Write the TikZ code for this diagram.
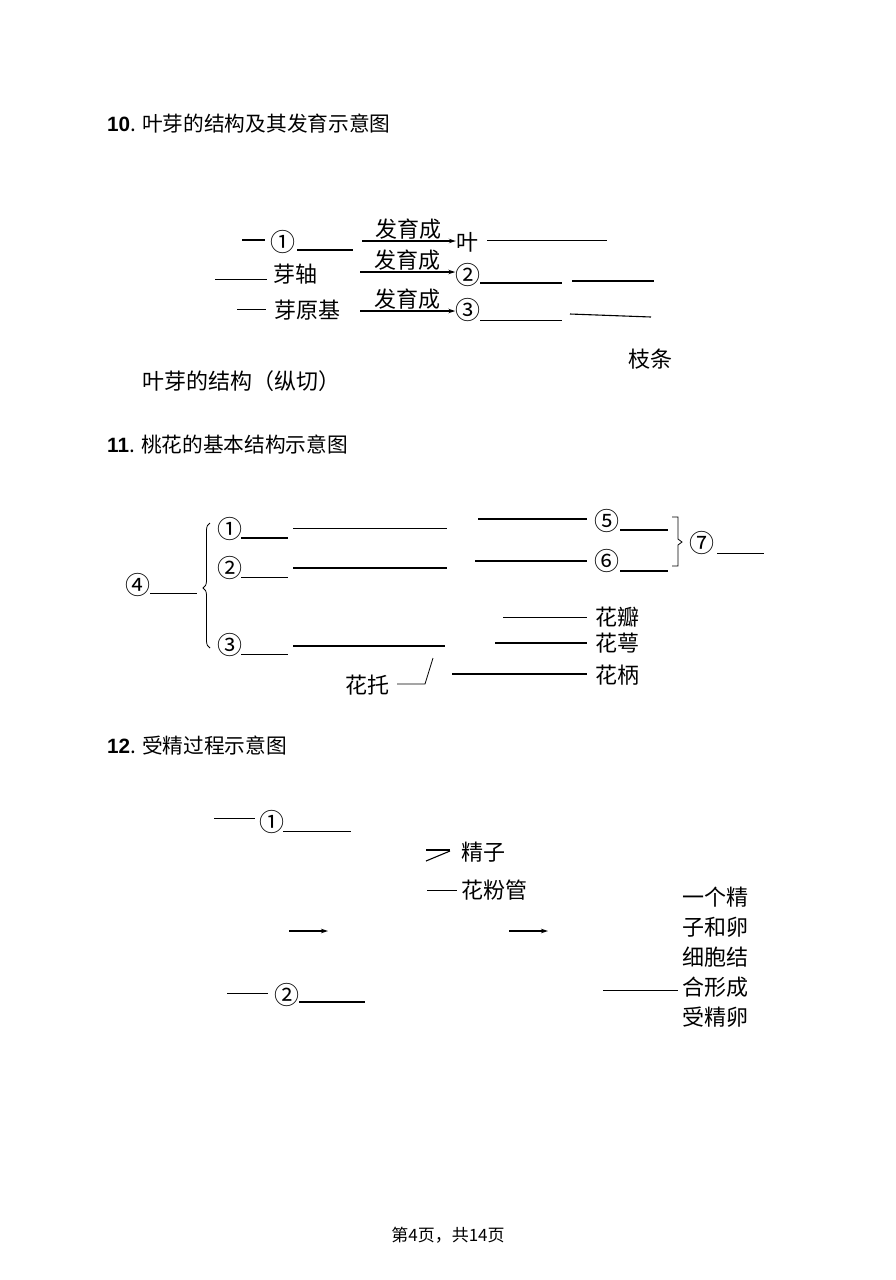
\documentclass[tikz,border=0pt]{standalone}
\usepackage{fontspec}
\setmainfont{Noto Sans CJK SC}
\newfontfamily\cjk{Noto Sans CJK SC}
\newfontfamily\lsans{Liberation Sans}
\usetikzlibrary{arrows.meta,decorations.pathreplacing}
\begin{document}
\begin{tikzpicture}[x=1pt,y=-1pt,
  txt/.style={inner sep=0pt, font=\cjk\fontsize{22}{22}\selectfont},
  circ/.style={inner sep=0pt, font=\cjk\fontsize{25}{25}\selectfont},
  hd/.style={inner sep=0pt, anchor=west, font=\cjk\fontsize{20.7}{21}\selectfont},
  ln/.style={line width=1.1pt},
  thin/.style={line width=0.8pt},
  arr/.style={-{Stealth[length=7pt,width=4.5pt]}, line width=1.1pt}]
\useasboundingbox (0,0) rectangle (895,1280);
\fill[white] (0,0) rectangle (895,1280);

% ---------- 10 ----------
\node[hd] (h10) at (107,124) {{\lsans\bfseries 10}. 叶芽的结构及其发育示意图};

\node[circ] (c1) at (283,242) {①};
\node[txt] (ye) at (467,242) {叶};
\node[txt] (yz) at (295,274) {芽轴};
\node[circ] (c2) at (468,275) {②};
\node[txt] (yyj) at (307,310) {芽原基};
\node[circ] (c3) at (468,310) {③};
\node[txt] (zt) at (650,359) {枝条};
\node[txt] (yjg) at (241,381) {叶芽的结构（纵切）};

\coordinate (a1s) at (362,241);
\coordinate (a2s) at (360,272);
\coordinate (a3s) at (360,311);
\draw[arr] (a1s) -- (ye.west |- a1s) node[midway, above=1pt, txt] (f1) {发育成};
\draw[arr] (a2s) -- (c2.west |- a2s) node[midway, above=1pt, txt] (f2) {发育成};
\draw[arr] (a3s) -- (c3.west |- a3s) node[midway, above=1pt, txt] (f3) {发育成};

\draw[ln] (242,240) -- (265,240);
\draw[ln] (297,250) -- (353,250);
\draw[thin] (487,240) -- (607,240);
\draw[thin] (215,279) -- (267,279);
\draw[ln] (480,283) -- (562,283);
\draw[ln] (572,281) -- (654,281);
\draw[thin] (237,309) -- (266,309);
\draw[thin] (480,320) -- (562,320);
\draw[ln] (570,314) -- (651,317);

% ---------- 11 ----------
\node[hd] (h11) at (107,445) {{\lsans\bfseries 11}. 桃花的基本结构示意图};

\node[circ] (k4) at (138,585) {④};
\node[circ] (k1) at (230,529) {①};
\node[circ] (k2) at (230,568) {②};
\node[circ] (k3) at (230,645) {③};
\node[circ] (k5) at (607,521) {⑤};
\node[circ] (k6) at (607,561) {⑥};
\node[circ] (k7) at (702,543) {⑦};
\node[txt] (hb) at (617,617) {花瓣};
\node[txt] (he) at (617,643) {花萼};
\node[txt] (hbing) at (617,675) {花柄};
\node[txt] (ht) at (367,685) {花托};

\draw[thin] (150,593) -- (197,593);
\draw[thin, decorate, decoration={brace, amplitude=7pt, aspect=0.48}] (210,648) -- (210,523);
\draw[ln] (241,538) -- (288,538);
\draw[thin] (293,528) -- (447,528);
\draw[thin] (241,577) -- (288,577);
\draw[ln] (293,568) -- (447,568);
\draw[thin] (241,654) -- (288,654);
\draw[ln] (293,646) -- (445,646);

\draw[ln] (478,519) -- (587,519);
\draw[ln] (620,530) -- (668,530);
\draw[ln] (475,561) -- (587,561);
\draw[ln] (620,571) -- (668,571);
\draw[thin] (672,517) -- (678,517) -- (678,539) -- (682,542) -- (678,545) -- (678,566) -- (672,566);
\draw[thin] (717,553) -- (764,553);

\draw[thin] (503,617) -- (587,617);
\draw[ln] (495,643) -- (587,643);
\draw[ln] (452,674) -- (587,674);
\draw[thin] (397,684) -- (425,684) -- (433,658);

% ---------- 12 ----------
\node[hd] (h12) at (107,746) {{\lsans\bfseries 12}. 受精过程示意图};

\node[circ] (m1) at (272,822) {①};
\node[txt] (jz) at (483,852) {精子};
\node[txt] (hfg) at (494,890) {花粉管};
\node[circ] (m2) at (287,995) {②};
\node[txt, align=center, font=\cjk\fontsize{22}{30}\selectfont] (sj) at (715,957) {一个精\\子和卵\\细胞结\\合形成\\受精卵};

\draw[thin] (214,818) -- (255,818);
\draw[thin] (283,831) -- (351,831);
\draw[ln] (426,850) -- (450,850);
\draw[ln] (426,861) -- (450,851);
\draw[thin] (427,890) -- (457,890);
\coordinate (p1) at (289,931);
\coordinate (p2) at (328,931);
\coordinate (q1) at (509,931);
\coordinate (q2) at (548,931);
\draw[arr] (p1) -- (p2);
\draw[arr] (q1) -- (q2);
\draw[thin] (227,993) -- (268,993);
\draw[ln] (299,1002) -- (365,1002);
\draw[thin] (603,990) -- (678,990);

% footer
\node[inner sep=0pt, font=\cjk\fontsize{17}{17}\selectfont] (ft) at (448,1235) {第4页，共14页};
\end{tikzpicture}
\end{document}
